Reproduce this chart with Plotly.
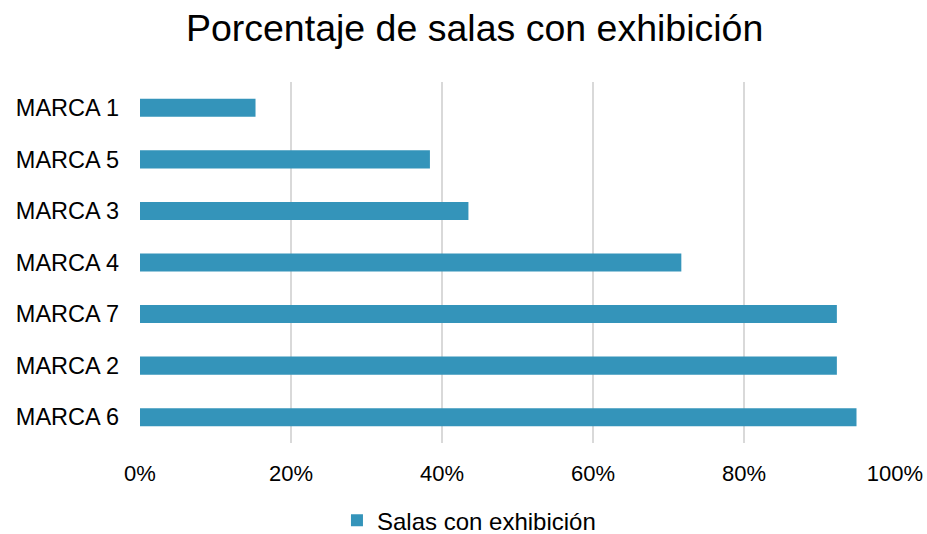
import plotly.graph_objects as go

# Brands listed top to bottom, with share of rooms showing the display
marcas = ["MARCA 1", "MARCA 5", "MARCA 3", "MARCA 4", "MARCA 7", "MARCA 2", "MARCA 6"]
porcentajes = [0.153, 0.384, 0.435, 0.717, 0.923, 0.923, 0.949]
serie = "Salas con exhibición"
x_ticks = [0, 0.2, 0.4, 0.6, 0.8, 1.0]
x_tick_labels = ["0%", "20%", "40%", "60%", "80%", "100%"]

fig = go.Figure(
    go.Bar(
        x=porcentajes,
        y=marcas,
        orientation="h",
        name=serie,
        marker=dict(color="#3494BA", line=dict(width=0)),
        showlegend=True,
    )
)

fig.update_layout(
    width=927,
    height=534,
    margin=dict(l=140, r=32, t=82, b=91),
    paper_bgcolor="white",
    plot_bgcolor="white",
    font=dict(family="Liberation Sans, Arial, sans-serif", color="#000000", size=22),
    title=dict(
        text="Porcentaje de salas con exhibición",
        font=dict(size=37.5, color="#000000"),
        x=0.512,
        xref="container",
        xanchor="center",
        y=0.947,
        yref="container",
        yanchor="middle",
    ),
    bargap=0.65,
    legend=dict(
        orientation="h",
        x=0.3635,
        xref="container",
        xanchor="left",
        y=0.025,
        yref="container",
        yanchor="middle",
        font=dict(size=24),
        itemwidth=30,
    ),
)

fig.update_xaxes(
    range=[0, 1.0],
    tickvals=x_ticks,
    ticktext=x_tick_labels,
    tickfont=dict(size=22),
    showgrid=True,
    gridcolor="#D9D9D9",
    gridwidth=1.5,
    zeroline=False,
    showline=False,
    ticks="",
    ticklabelstandoff=15,
    automargin=False,
    fixedrange=True,
)

fig.update_yaxes(
    categoryorder="array",
    categoryarray=marcas,
    autorange="reversed",
    tickfont=dict(size=23.5),
    showgrid=False,
    showline=False,
    ticks="",
    ticklabelstandoff=20,
    automargin=False,
    fixedrange=True,
)

fig.write_html("out.html")
